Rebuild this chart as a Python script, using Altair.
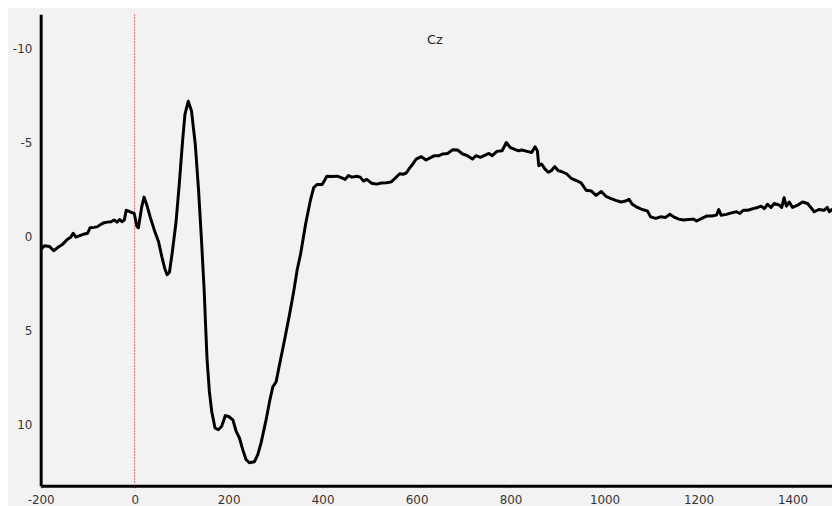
import altair as alt
import pandas as pd

# Time (ms) and amplitude (µV) (Cz)
time_ms = [
    -200, -192, -181, -172, -164, -153, -143, -136, -131, -125, -118, -107, -100,
    -95, -86, -79, -72, -65, -58, -50, -44, -37, -32, -27, -22, -18, -13, -6, -1,
    5, 8, 15, 20, 26, 33, 41, 51, 58, 64, 69, 74, 80, 88, 95, 102, 107, 114, 121,
    129, 136, 142, 148, 151, 154, 159, 164, 171, 178, 185, 193, 200, 209, 216, 223,
    230, 237, 244, 255, 262, 269, 279, 287, 294, 301, 308, 318, 329, 338, 346, 353,
    364, 374, 381, 388, 399, 404, 409, 420, 431, 441, 448, 455, 462, 473, 480, 487,
    494, 504, 515, 525, 536, 546, 553, 564, 571, 578, 585, 592, 599, 610, 620, 631,
    638, 648, 655, 666, 677, 687, 698, 708, 719, 726, 736, 747, 754, 761, 771, 782,
    791, 799, 810, 817, 824, 835, 845, 852, 857, 860, 866, 873, 880, 887, 894, 901,
    908, 919, 929, 940, 950, 961, 972, 982, 993, 1003, 1014, 1024, 1035, 1045, 1052,
    1059, 1070, 1080, 1091, 1098, 1109, 1119, 1130, 1139, 1147, 1158, 1168, 1179,
    1189, 1196, 1207, 1217, 1228, 1238, 1243, 1248, 1259, 1270, 1281, 1288, 1295,
    1305, 1316, 1326, 1333, 1340, 1347, 1354, 1361, 1372, 1377, 1382, 1387, 1393,
    1400, 1411, 1421, 1432, 1439, 1446, 1456, 1467, 1474, 1478, 1484,
]
amplitude_uv = [
    0.71, 0.50, 0.54, 0.76, 0.59, 0.41, 0.15, 0.04, -0.17, 0.04, -0.03, -0.13, -0.17,
    -0.46, -0.48, -0.52, -0.64, -0.73, -0.76, -0.78, -0.87, -0.76, -0.90, -0.78, -0.87,
    -1.39, -1.34, -1.27, -1.22,
    -0.52, -0.46, -1.57, -2.09, -1.66, -1.04, -0.40, 0.30, 1.10, 1.70, 2.03, 1.90, 0.85,
    -0.75, -2.80, -5.08, -6.48, -7.18, -6.66,
    -4.90, -2.45, 0.10, 2.90, 4.75, 6.50, 8.25, 9.30, 10.18, 10.27, 10.10, 9.52, 9.57,
    9.75, 10.36, 10.71,
    11.33, 11.85, 12.03, 11.97, 11.59, 10.97, 9.83, 8.78, 7.99, 7.73, 6.85, 5.62, 4.22,
    2.99, 1.76, 0.95,
    -0.69, -1.92, -2.59, -2.76, -2.76, -2.97, -3.20, -3.18, -3.20, -3.11, -3.03, -3.24,
    -3.15, -3.20, -3.15, -2.94,
    -3.03, -2.83, -2.78, -2.84, -2.85, -2.90, -3.06, -3.33, -3.30, -3.37, -3.63, -3.85,
    -4.11, -4.24, -4.06, -4.20,
    -4.29, -4.29, -4.38, -4.41, -4.61, -4.59, -4.38, -4.29, -4.11, -4.29, -4.20, -4.33,
    -4.41, -4.29, -4.52, -4.55,
    -4.99, -4.73, -4.61, -4.55, -4.59, -4.52, -4.46, -4.76, -4.55, -3.76, -3.85, -3.59,
    -3.41, -3.50, -3.71, -3.50,
    -3.45, -3.33, -3.09, -2.97, -2.85, -2.45, -2.41, -2.18, -2.39, -2.13, -2.01, -1.92,
    -1.83, -1.88, -1.97,
    -1.71, -1.54, -1.43, -1.36, -1.04, -0.96, -1.04, -1.01, -1.18, -1.04, -0.92, -0.87,
    -0.90,
    -0.92, -0.82, -0.96, -1.08, -1.09, -1.13, -1.43, -1.13, -1.17, -1.25, -1.31, -1.22,
    -1.39,
    -1.39, -1.48, -1.54, -1.61, -1.48, -1.71, -1.54, -1.75, -1.66, -1.54, -2.06, -1.61,
    -1.83,
    -1.54, -1.66, -1.83, -1.75, -1.54, -1.31, -1.43, -1.39, -1.54, -1.31, -1.43,
]

x_ticks = [-200, 0, 200, 400, 600, 800, 1000, 1200, 1400]
y_ticks = [-10, -5, 0, 5, 10]
title_text = "Cz"
stim_onset = [0]

W, H = 799, 476
x_domain = [-200, 1484]
y_domain = [-11.8, 13.25]

df = pd.DataFrame({"t": time_ms, "v": amplitude_uv})
onset_df = pd.DataFrame({"t": stim_onset})
title_df = pd.DataFrame({"label": [title_text]})

x_scale = alt.Scale(domain=x_domain, nice=False, zero=False)
y_scale = alt.Scale(domain=y_domain, nice=False, zero=False, reverse=True)

plain_label = "'' + datum.value"

x_axis = alt.Axis(
    values=x_ticks, title=None, grid=False, domainColor="#000000", domainWidth=3,
    tickColor="#777777", tickSize=2, tickWidth=1, labelFontSize=12,
    labelColor="#333333", labelFont="DejaVu Sans", labelPadding=7,
    labelExpr=plain_label, labelFlush=False, labelOverlap=False,
)
y_axis = alt.Axis(
    values=y_ticks, title=None, grid=False, domainColor="#000000", domainWidth=3,
    ticks=False, labelFontSize=12, labelColor="#333333", labelFont="DejaVu Sans",
    labelPadding=9, labelExpr=plain_label, labelFlush=False,
)

onset = alt.Chart(onset_df).mark_rule(
    color="#e06060", strokeWidth=1, strokeDash=[2, 1]
).encode(
    x=alt.X("t:Q", scale=x_scale, axis=x_axis),
)

wave = alt.Chart(df).mark_line(
    color="#000000", strokeWidth=3, strokeJoin="round", strokeCap="round", clip=True
).encode(
    x=alt.X("t:Q", scale=x_scale, axis=x_axis),
    y=alt.Y("v:Q", scale=y_scale, axis=y_axis),
    order="t:Q",
)

title = alt.Chart(title_df).mark_text(
    fontSize=13, font="DejaVu Sans", color="#222222", baseline="middle", align="center"
).encode(
    x=alt.value(398), y=alt.value(26), text="label:N"
)

chart = alt.layer(onset, wave, title).properties(
    width=W, height=H,
    background="#f2f2f2",
    padding={"left": 33, "top": 4, "right": 0, "bottom": 18},
    autosize=alt.AutoSizeParams(type="none"),
).configure_view(stroke=None, fill="#f2f2f2")

chart.save("out.html", embed_options={"renderer": "svg", "actions": False})
